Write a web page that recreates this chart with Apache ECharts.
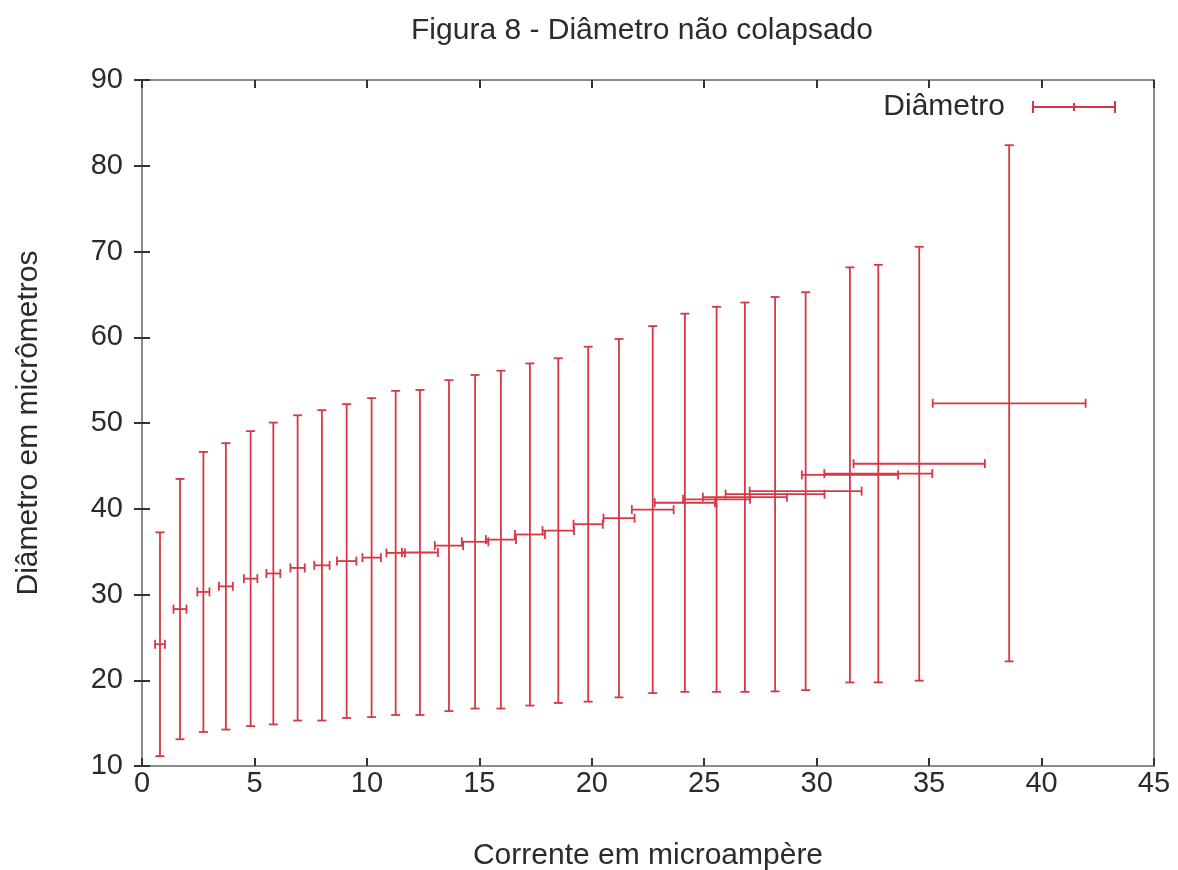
<!DOCTYPE html>
<html>
<head>
<meta charset="utf-8">
<title>Diâmetro não colapsado</title>
<script src="https://cdn.jsdelivr.net/npm/echarts@6/dist/echarts.min.js"></script>
<style>
  html, body { margin: 0; padding: 0; background: #ffffff; }
  #chart { width: 1178px; height: 870px; }
</style>
</head>
<body>
<div id="chart"></div>
<script>
// Corrente (µA) and diâmetro (µm), with the half-width of each error bar
const current = [0.80, 1.69, 2.73, 3.73, 4.83, 5.84, 6.92, 8.00, 9.10, 10.21,
                 11.28, 12.36, 13.65, 14.81, 15.96, 17.25, 18.51, 19.84, 21.21, 22.71,
                 24.14, 25.55, 26.81, 28.15, 29.51, 31.48, 32.74, 34.56, 38.56];
const currentErr = [0.22, 0.29, 0.27, 0.31, 0.30, 0.31, 0.32, 0.34, 0.43, 0.41,
                    0.41, 0.80, 0.63, 0.59, 0.67, 0.67, 0.70, 0.65, 0.69, 0.93,
                    1.34, 1.49, 1.87, 2.20, 2.49, 2.14, 2.40, 2.92, 3.40];
const diameter = [24.2, 28.3, 30.3, 30.95, 31.85, 32.45, 33.1, 33.4, 33.9, 34.3,
                  34.85, 34.9, 35.7, 36.15, 36.4, 37.0, 37.45, 38.2, 38.9, 39.9,
                  40.7, 41.1, 41.35, 41.7, 42.05, 43.95, 44.1, 45.25, 52.3];
const diameterErr = [13.05, 15.18, 16.33, 16.7, 17.2, 17.6, 17.8, 18.1, 18.3, 18.6,
                     18.9, 18.95, 19.3, 19.45, 19.7, 19.95, 20.1, 20.7, 20.9, 21.4,
                     22.05, 22.45, 22.7, 23.0, 23.2, 24.2, 24.35, 25.3, 30.1];

const xTicks = { min: 0, max: 45, interval: 5 };
const yTicks = { min: 10, max: 90, interval: 10 };

const seriesName = 'Diâmetro';
const titleText = 'Figura 8 - Diâmetro não colapsado';
const xName = 'Corrente em microampère';
const yName = 'Diâmetro em micrômetros';

const RED = '#d63845';
const TEXT = '#2b2b2b';
const FONT = '"Liberation Sans", Arial, sans-serif';

const points = current.map((x, i) => [x, diameter[i], currentErr[i], diameterErr[i]]);

// xy error bars: vertical bar with horizontal caps, horizontal bar with vertical caps
function renderErrorBars(params, api) {
  const x = api.value(0), y = api.value(1), dx = api.value(2), dy = api.value(3);
  const top = api.coord([x, y + dy]);
  const bottom = api.coord([x, y - dy]);
  const left = api.coord([x - dx, y]);
  const right = api.coord([x + dx, y]);
  const cap = 4.5;
  const style = { stroke: RED, lineWidth: 1.8, fill: null };
  const seg = (x1, y1, x2, y2) => ({ type: 'line', shape: { x1, y1, x2, y2 }, style });
  return {
    type: 'group',
    children: [
      seg(top[0], top[1], bottom[0], bottom[1]),
      seg(top[0] - cap, top[1], top[0] + cap, top[1]),
      seg(bottom[0] - cap, bottom[1], bottom[0] + cap, bottom[1]),
      seg(left[0], left[1], right[0], right[1]),
      seg(left[0], left[1] - cap, left[0], left[1] + cap),
      seg(right[0], right[1] - cap, right[0], right[1] + cap)
    ]
  };
}

const chart = echarts.init(document.getElementById('chart'), null, { renderer: 'canvas' });

const tickStyle = { show: true, inside: true, length: 8, lineStyle: { color: '#333', width: 2 } };

chart.setOption({
  animation: false,
  backgroundColor: '#ffffff',
  title: {
    text: titleText,
    left: 637,
    textAlign: 'center',
    top: 11,
    textStyle: { fontFamily: FONT, fontSize: 30, fontWeight: 'normal', color: TEXT }
  },
  legend: {
    data: [seriesName],
    right: 57,
    top: 87,
    align: 'right',
    itemWidth: 84,
    itemHeight: 12,
    icon: 'path://M0,0H2V5H41V2H43V5H82V0H84V12H82V7H43V10H41V7H2V12H0Z',
    textStyle: { fontFamily: FONT, fontSize: 30, color: TEXT, padding: [0, 22, 0, 0] }
  },
  grid: {
    left: 142, right: 24, top: 80, bottom: 104,
    outerBoundsMode: 'none',
    show: true, borderColor: '#8c8c8c', borderWidth: 2, backgroundColor: '#ffffff'
  },
  xAxis: [
    {
      type: 'value', position: 'bottom', min: xTicks.min, max: xTicks.max, interval: xTicks.interval,
      name: xName, nameLocation: 'middle', nameGap: 75,
      nameTextStyle: { fontFamily: FONT, fontSize: 30, color: TEXT },
      axisLine: { show: false },
      axisTick: tickStyle,
      splitLine: { show: false },
      axisLabel: { margin: 3, fontFamily: FONT, fontSize: 29, color: TEXT }
    },
    {
      type: 'value', position: 'top', min: xTicks.min, max: xTicks.max, interval: xTicks.interval,
      axisLine: { show: false }, axisTick: tickStyle, splitLine: { show: false },
      axisLabel: { show: false }
    }
  ],
  yAxis: [
    {
      type: 'value', position: 'left', min: yTicks.min, max: yTicks.max, interval: yTicks.interval,
      name: yName, nameLocation: 'middle', nameGap: 98,
      nameTextStyle: { fontFamily: FONT, fontSize: 30, color: TEXT },
      axisLine: { show: false },
      axisTick: tickStyle,
      splitLine: { show: false },
      axisLabel: { margin: 19, fontFamily: FONT, fontSize: 29, color: TEXT }
    },
    {
      type: 'value', position: 'right', min: yTicks.min, max: yTicks.max, interval: yTicks.interval,
      axisLine: { show: false }, axisTick: tickStyle, splitLine: { show: false },
      axisLabel: { show: false }
    }
  ],
  series: [
    {
      name: seriesName,
      type: 'custom',
      xAxisIndex: 0,
      yAxisIndex: 0,
      renderItem: renderErrorBars,
      itemStyle: { color: RED },
      encode: { x: 0, y: 1 },
      data: points
    }
  ]
});
</script>
</body>
</html>
